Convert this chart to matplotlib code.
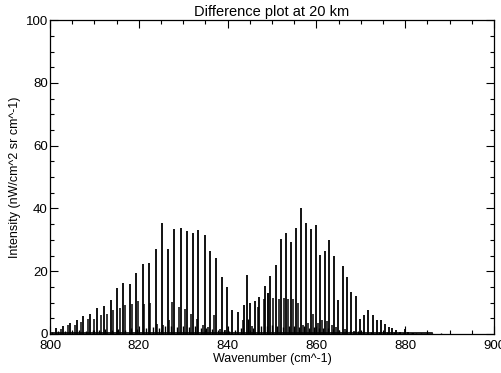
import numpy as np
import matplotlib
matplotlib.use("Agg")
import matplotlib.pyplot as plt
from matplotlib.ticker import MultipleLocator

plt.rcParams['font.family'] = ['Liberation Sans', 'DejaVu Sans']

# strong lines
main_x = [801.3, 802.9, 804.4, 806.0, 807.5, 809.1, 810.6, 812.1, 813.7, 815.1,
          816.5, 818.0, 819.4, 820.9, 822.4, 823.8, 825.2, 826.6, 828.0, 829.4,
          830.8, 832.1, 833.4, 834.8, 836.0, 837.4, 838.7, 839.9, 841.1, 842.4,
          843.7, 844.3, 845.0, 846.2, 847.1, 848.5, 849.6, 850.8, 852.0, 853.2,
          854.3, 855.4, 856.5, 857.6, 858.7, 859.8, 860.8, 861.9, 862.9, 864.0,
          864.9, 865.9, 867.0, 867.9, 868.9, 869.9, 870.8, 871.7, 872.7, 873.6,
          874.5, 875.4, 876.3, 877.0, 877.9, 878.8, 879.9, 880.6, 881.8]
main_y = [1.9, 2.7, 3.6, 4.3, 5.6, 6.5, 8.4, 8.8, 10.7, 14.6,
          16.3, 16.0, 19.4, 22.2, 22.7, 27.0, 35.3, 27.0, 33.3, 33.7,
          32.7, 32.1, 33.0, 31.5, 26.5, 24.2, 18.1, 14.9, 7.8, 7.0,
          9.1, 18.7, 9.9, 10.4, 11.8, 15.4, 18.6, 21.9, 30.2, 32.1,
          29.2, 33.7, 40.0, 35.5, 33.4, 34.6, 25.1, 26.5, 29.9, 24.8,
          10.7, 21.6, 18.0, 13.3, 12.1, 4.9, 6.0, 7.5, 6.0, 4.4,
          4.3, 3.3, 2.2, 2.0, 1.4, 0.6, 1.7, 0.6, 0.3]

# weaker lines
mid_x = [802.4, 804.1, 805.6, 807.0, 808.5, 810.0, 811.4, 812.8, 814.3, 815.7,
         817.0, 818.5, 819.8, 821.2, 822.6, 824.0, 825.4, 826.8, 827.5, 829.0,
         830.4, 831.8, 833.0, 834.4, 835.6, 837.0, 838.2, 839.5, 843.5, 845.4,
         846.8, 848.2, 849.0, 849.2, 850.2, 851.5, 852.7, 853.6, 854.7, 855.9,
         856.9, 858.1, 859.2, 860.3, 861.3, 862.4, 863.5, 864.5, 866.4, 868.4]
mid_y = [1.7, 2.8, 2.9, 3.8, 4.9, 4.9, 6.0, 6.3, 7.5, 8.4,
         9.1, 9.7, 10.5, 9.5, 9.9, 3.3, 2.8, 4.3, 10.2, 8.6,
         8.1, 6.5, 4.9, 2.8, 2.2, 6.0, 1.5, 1.2, 4.6, 2.5,
         8.7, 11.3, 13.1, 13.2, 11.5, 11.0, 11.5, 11.3, 11.0, 9.8,
         3.0, 3.5, 6.4, 3.6, 4.6, 4.0, 3.0, 2.2, 1.5, 1.0]

# background lines near zero
low_x = [800.5, 801.8, 803.4, 805.0, 806.5, 808.0, 809.6, 811.0, 812.5, 814.0,
         815.4, 816.9, 818.3, 819.7, 821.6, 823.1, 824.5, 825.9, 827.2, 828.6,
         830.0, 831.3, 832.6, 833.9, 835.2, 836.6, 837.9, 839.2, 840.4, 841.7,
         843.0, 844.7, 845.7, 847.6, 848.9, 850.0, 851.2, 852.4, 853.9, 855.0,
         856.1, 857.2, 858.4, 859.5, 860.6, 861.6, 862.7, 863.8, 865.2, 866.7,
         867.5, 869.4, 870.4, 872.2, 874.0, 875.9, 877.5, 878.3, 879.4, 881.2,
         882.5, 883.6, 884.8, 886.0, 888.0, 890.0, 891.5, 893.0]
low_y = [0.6, 0.8, 0.9, 1.0, 1.2, 1.0, 1.3, 1.2, 1.5, 1.3,
         1.6, 1.4, 1.8, 1.6, 1.9, 2.2, 2.0, 2.4, 2.5, 2.3,
         2.7, 2.2, 2.5, 2.0, 1.8, 1.6, 1.4, 1.2, 1.0, 1.3,
         1.8, 4.8, 2.0, 2.4, 2.6, 2.8, 2.5, 2.3, 2.6, 2.4,
         2.2, 2.5, 2.0, 2.3, 1.9, 2.0, 1.8, 1.6, 1.4, 1.2,
         1.0, 0.9, 0.8, 0.7, 0.6, 0.5, 0.5, 0.4, 0.4, 0.3,
         0.3, 0.2, 0.2, 0.2, 0.2, 0.1, 0.1, 0.1]

fig = plt.figure(figsize=(5.01, 3.73), dpi=100)
ax = fig.add_axes([0.0998, 0.1046, 0.8862, 0.8414])

ax.vlines(low_x, 0, low_y, color='black', linewidth=1.0)
ax.vlines(mid_x, 0, mid_y, color='black', linewidth=1.1)
ax.vlines(main_x, 0, main_y, color='black', linewidth=1.3)
ax.axhline(0.3, color='black', linewidth=1.2, xmax=0.86)

ax.set_xlim(800, 900)
ax.set_ylim(0, 100)
ax.xaxis.set_major_locator(MultipleLocator(20))
ax.xaxis.set_minor_locator(MultipleLocator(5))
ax.yaxis.set_major_locator(MultipleLocator(20))
ax.yaxis.set_minor_locator(MultipleLocator(5))
ax.tick_params(which='both', direction='in', top=True, right=True,
               labelsize=9.5, width=0.8)
ax.tick_params(axis='x', pad=4)
ax.tick_params(axis='y', pad=1.5)
ax.tick_params(which='major', length=6)
ax.tick_params(which='minor', length=3)
for s in ax.spines.values():
    s.set_linewidth(0.9)

ax.set_title('Difference plot at 20 km', fontsize=10.5, pad=3)
ax.set_xlabel('Wavenumber (cm^-1)', fontsize=9, labelpad=1)
ax.set_ylabel('Intensity (nW/cm^2 sr cm^-1)', fontsize=9, labelpad=3)

fig.savefig('out.png', dpi=100)
